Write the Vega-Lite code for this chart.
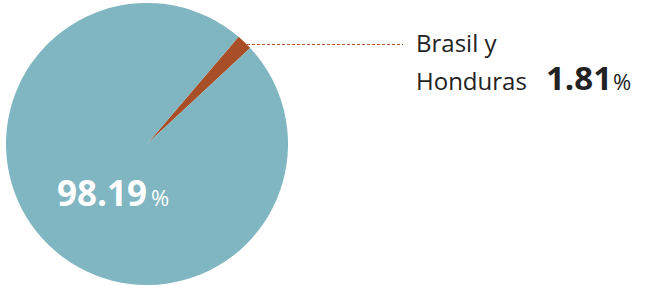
{
  "$schema": "https://vega.github.io/schema/vega-lite/v6.json",
  "width": 651,
  "height": 285,
  "autosize": {"type": "fit", "contains": "padding"},
  "padding": 0,
  "background": "white",
  "config": {"view": {"stroke": null}, "text": {"font": "Open Sans"}},
  "datasets": {
    "slices": [
      {"segmento": "Brasil y Honduras", "porcentaje": 1.81},
      {"segmento": "Otros", "porcentaje": 98.19}
    ]
  },
  "data": {"name": "slices"},
  "encoding": {
    "x": {"type": "quantitative", "scale": {"domain": [0, 651], "nice": false, "zero": false}, "axis": null},
    "y": {"type": "quantitative", "scale": {"domain": [285, 0], "nice": false, "zero": false}, "axis": null}
  },
  "layer": [
    {
      "mark": {"type": "arc", "outerRadius": 141},
      "encoding": {
        "x": {"datum": 147, "type": "quantitative"},
        "y": {"datum": 144, "type": "quantitative"},
        "theta": {"field": "porcentaje", "type": "quantitative", "stack": true, "scale": {"range": [0.707, 6.990]}},
        "order": {"field": "porcentaje", "sort": "ascending"},
        "color": {"field": "segmento", "type": "nominal", "scale": {"domain": ["Brasil y Honduras", "Otros"], "range": ["#a94f27", "#7fb6c1"]}, "legend": null}
      }
    },
    {
      "mark": {"type": "rule", "color": "#b4532a", "strokeDash": [3, 2], "strokeWidth": 1},
      "transform": [{"filter": "datum.segmento === 'Brasil y Honduras'"}],
      "encoding": {
        "x": {"datum": 247, "type": "quantitative"},
        "x2": {"datum": 403},
        "y": {"datum": 44.5, "type": "quantitative"}
      }
    },
    {
      "mark": {"type": "text", "align": "left", "baseline": "alphabetic", "fontSize": 24, "color": "#222222", "lineHeight": 38},
      "transform": [{"filter": "datum.segmento === 'Brasil y Honduras'"}],
      "encoding": {
        "x": {"datum": 416, "type": "quantitative"},
        "y": {"datum": 52, "type": "quantitative"},
        "text": {"value": ["Brasil y", "Honduras"]}
      }
    },
    {
      "mark": {"type": "text", "align": "left", "baseline": "alphabetic", "fontSize": 33, "fontWeight": "bold", "color": "#222222"},
      "transform": [{"filter": "datum.segmento === 'Brasil y Honduras'"}],
      "encoding": {
        "x": {"datum": 546, "type": "quantitative"},
        "y": {"datum": 90, "type": "quantitative"},
        "text": {"field": "porcentaje", "type": "quantitative", "format": ".2f"}
      }
    },
    {
      "mark": {"type": "text", "align": "left", "baseline": "alphabetic", "fontSize": 22, "color": "#222222"},
      "transform": [{"filter": "datum.segmento === 'Brasil y Honduras'"}],
      "encoding": {
        "x": {"datum": 613, "type": "quantitative"},
        "y": {"datum": 90, "type": "quantitative"},
        "text": {"value": "%"}
      }
    },
    {
      "mark": {"type": "text", "align": "left", "baseline": "alphabetic", "fontSize": 35, "fontWeight": "bold", "color": "white"},
      "transform": [{"filter": "datum.segmento === 'Otros'"}],
      "encoding": {
        "x": {"datum": 57, "type": "quantitative"},
        "y": {"datum": 206, "type": "quantitative"},
        "text": {"field": "porcentaje", "type": "quantitative", "format": ".2f"}
      }
    },
    {
      "mark": {"type": "text", "align": "left", "baseline": "alphabetic", "fontSize": 22, "color": "white"},
      "transform": [{"filter": "datum.segmento === 'Otros'"}],
      "encoding": {
        "x": {"datum": 151, "type": "quantitative"},
        "y": {"datum": 206, "type": "quantitative"},
        "text": {"value": "%"}
      }
    }
  ]
}
